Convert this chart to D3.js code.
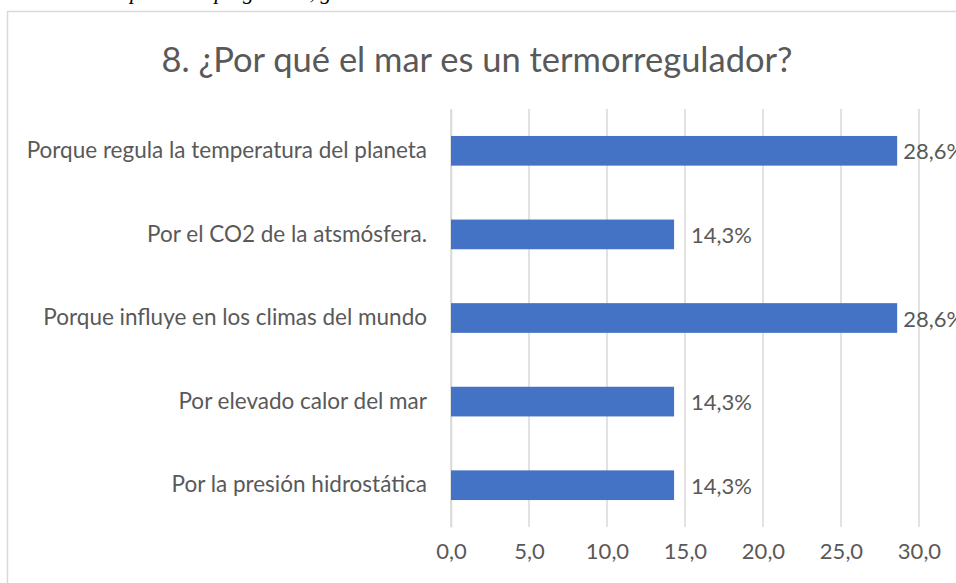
<!DOCTYPE html>
<html>
<head>
<meta charset="utf-8">
<script src="https://cdnjs.cloudflare.com/ajax/libs/d3/7.8.5/d3.min.js"></script>
<style>
  body { margin: 0; background: #fff; overflow: hidden; }
  text { font-family: Lato, "Open Sans", sans-serif; fill: #595959; }
</style>
</head>
<body>
<div id="chart"></div>
<script>
var categories = [
  "Porque regula la temperatura del planeta",
  "Por el CO2 de la atsmósfera.",
  "Porque influye en los climas del mundo",
  "Por elevado calor del mar",
  "Por la presión hidrostática"
];
var values = [28.6, 14.3, 28.6, 14.3, 14.3];
var valueLabels = ["28,6%", "14,3%", "28,6%", "14,3%", "14,3%"];
var tickValues = [0, 5, 10, 15, 20, 25, 30];
var title = "8. ¿Por qué el mar es un termorregulador?";
var caption = "Resultados por cada pregunta 8, grado 6°.";

var width = 956;
var height = 583;

var margin = { top: 109, right: 37, bottom: 56, left: 451 };
var innerWidth = width - margin.left - margin.right;
var innerHeight = height - margin.top - margin.bottom;

var svg = d3.select("#chart").append("svg").attr("width", width).attr("height", height);

// caption of the document, mostly cut off at the top
svg.append("text")
  .attr("x", 28)
  .attr("y", -1)
  .style("font-family", "'Liberation Serif', serif")
  .style("font-style", "italic")
  .style("font-size", 22)
  .style("fill", "#000")
  .text(caption);

// chart frame
svg.append("rect")
  .attr("x", 7.5)
  .attr("y", 11.5)
  .attr("width", 960)
  .attr("height", 600)
  .attr("fill", "#fff")
  .attr("stroke", "#d9d9d9")
  .attr("stroke-width", 1.5);

svg.append("text")
  .attr("x", 477)
  .attr("y", 58)
  .attr("text-anchor", "middle")
  .attr("dominant-baseline", "central")
  .style("font-size", 34.5)
  .style("font-weight", 400)
  .text(title);

var g = svg.append("g").attr("transform", "translate(" + margin.left + "," + margin.top + ")");

var x = d3.scaleLinear().domain([0, 30]).range([0, innerWidth]);

var y = d3.scaleBand().domain(categories).range([0, innerHeight]).paddingInner(0.645).paddingOuter(0.3225);

// gridlines
g.selectAll(".grid")
  .data(tickValues)
  .enter()
  .append("line")
  .attr("class", "grid")
  .attr("x1", function (d) { return x(d); })
  .attr("x2", function (d) { return x(d); })
  .attr("y1", 0)
  .attr("y2", innerHeight)
  .attr("stroke", "#d9d9d9")
  .attr("stroke-width", 1.5);

var xAxis = d3.axisBottom(x)
  .tickValues(tickValues)
  .tickSize(0)
  .tickPadding(16)
  .tickFormat(function (d) { return d3.format(".1f")(d).replace(".", ","); });

var xg = g.append("g").attr("transform", "translate(0," + innerHeight + ")").call(xAxis);
xg.select(".domain").remove();
xg.selectAll("text").style("font-size", 22).style("fill", "#595959");

var yAxis = d3.axisLeft(y).tickSize(0).tickPadding(24);
var yg = g.append("g").call(yAxis);
yg.select(".domain").attr("stroke", "#d9d9d9").attr("stroke-width", 1.5);
yg.selectAll("text").style("font-size", 22.5).style("fill", "#595959");

g.selectAll(".bar")
  .data(values)
  .enter()
  .append("rect")
  .attr("class", "bar")
  .attr("x", x(0))
  .attr("y", function (d, i) { return y(categories[i]); })
  .attr("width", function (d) { return x(d) - x(0); })
  .attr("height", y.bandwidth())
  .attr("fill", "#4472c4");

g.selectAll(".label")
  .data(values)
  .enter()
  .append("text")
  .attr("class", "label")
  .attr("x", function (d) { return x(d) + (d > 20 ? 6 : 17); })
  .attr("y", function (d, i) { return y(categories[i]) + y.bandwidth() / 2; })
  .attr("dominant-baseline", "central")
  .style("font-size", 22)
  .text(function (d, i) { return valueLabels[i]; });
</script>
</body>
</html>
